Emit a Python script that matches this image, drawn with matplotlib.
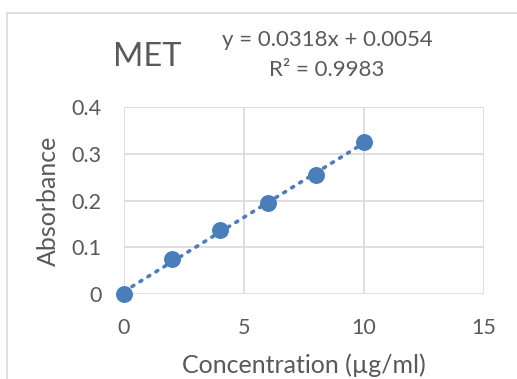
import matplotlib.pyplot as plt
from matplotlib.patches import Rectangle

# calibration data
conc = [0, 2, 4, 6, 8, 10]
absorb = [0.0, 0.075, 0.137, 0.194, 0.255, 0.326]
slope, intercept = 0.0318, 0.0054
r2 = 0.9983
xticks = [0, 5, 10, 15]
yticks = [0, 0.1, 0.2, 0.3, 0.4]
ytick_labels = ["0", "0.1", "0.2", "0.3", "0.4"]

blue = "#4a7ebb"
grey_txt = "#595959"
grid_c = "#d9d9d9"
plt.rcParams["font.family"] = ["Lato", "DejaVu Sans"]

W, H = 517, 379
fig = plt.figure(figsize=(W / 100, H / 100), dpi=100)

# outer chart frame (cropped at right/bottom)
fig.patches.append(Rectangle((7 / W, -0.1), 1.2, 1.1 - 13 / H, transform=fig.transFigure,
                             fill=False, edgecolor=grid_c, linewidth=1.2))

ax = fig.add_axes([124 / W, 1 - 294 / H, 360 / W, (294 - 107.3) / H])
ax.set_xlim(0, 15)
ax.set_ylim(0, 0.4)
ax.set_xticks(xticks)
ax.set_yticks(yticks)
ax.set_yticklabels(ytick_labels)
ax.grid(True, color=grid_c, linewidth=1.2)
ax.set_axisbelow(True)
for s in ax.spines.values():
    s.set_visible(False)
ax.tick_params(length=0, labelsize=15.5, colors=grey_txt)
ax.tick_params(axis="y", pad=16)
ax.tick_params(axis="x", pad=17)

# trendline
tx = [conc[0], conc[-1]]
ty = [slope * v + intercept for v in tx]
ax.plot(tx, ty, linestyle=(0, (0.6, 2.0)), color=blue, linewidth=2.6,
        dash_capstyle="round", zorder=2)
ax.scatter(conc, absorb, s=125, color=blue, zorder=3, clip_on=False)

fig.text(304 / W, 1 - 365 / H, "Concentration (µg/ml)", fontsize=18, color=grey_txt,
         ha="center", va="center")
fig.text(48 / W, 1 - 201 / H, "Absorbance", fontsize=18, color=grey_txt,
         ha="center", va="center", rotation=90)

fig.text(147 / W, 1 - 57 / H, "MET", fontsize=23.5, color=grey_txt, ha="center", va="center")
fig.text(327 / W, 1 - 40 / H, f"y = {slope}x + {intercept}", fontsize=16,
         color=grey_txt, ha="center", va="center")
fig.text(327 / W, 1 - 70 / H, f"R² = {r2}", fontsize=16,
         color=grey_txt, ha="center", va="center")

fig.savefig("out.png", dpi=100)
